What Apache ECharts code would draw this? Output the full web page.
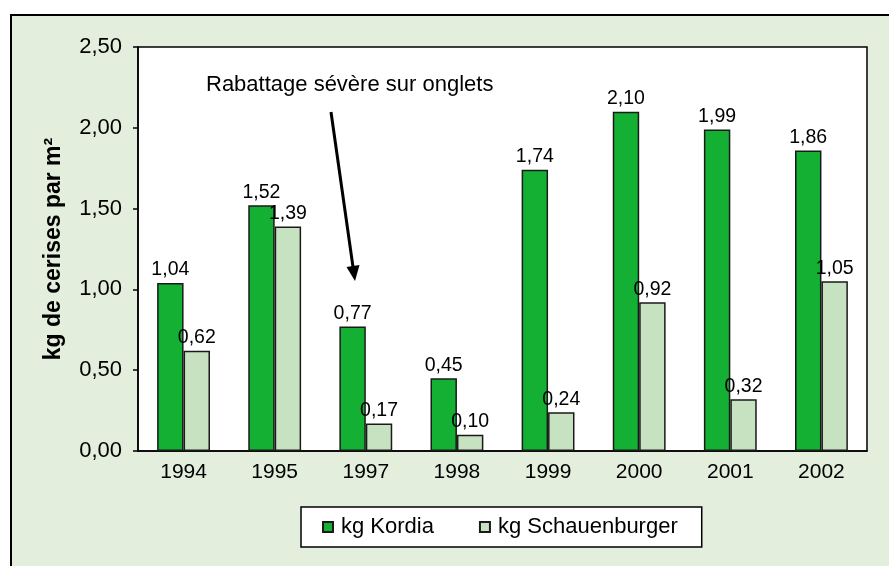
<!DOCTYPE html>
<html>
<head>
<meta charset="utf-8">
<script src="https://cdn.jsdelivr.net/npm/echarts@6/dist/echarts.min.js"></script>
<style>
  html, body { margin: 0; padding: 0; background: #fff; }
  #main { width: 889px; height: 566px; }
</style>
</head>
<body>
<div id="main"></div>
<script>
// donnees
var years = ['1994', '1995', '1997', '1998', '1999', '2000', '2001', '2002'];
var kordia = [1.04, 1.52, 0.77, 0.45, 1.74, 2.10, 1.99, 1.86];
var schauenburger = [0.62, 1.39, 0.17, 0.10, 0.24, 0.92, 0.32, 1.05];
var seriesNames = ['kg Kordia', 'kg Schauenburger'];
var yTicks = [0, 0.5, 1, 1.5, 2, 2.5];

var FONT = '"Liberation Sans", Arial, sans-serif';

function fr(v) {
  return v.toFixed(2).replace('.', ',');
}

var chart = echarts.init(document.getElementById('main'));

var option = {
  backgroundColor: '#ffffff',
  animation: false,
  textStyle: { fontFamily: FONT, color: '#000' },
  title: {
    text: 'Rabattage sévère sur onglets',
    left: 206,
    top: 74,
    padding: 0,
    textStyle: { fontSize: 22, fontWeight: 'normal', color: '#000', fontFamily: FONT }
  },
  graphic: [
    {
      type: 'rect',
      z: -10,
      silent: true,
      shape: { x: 11, y: 15, width: 900, height: 600 },
      style: { fill: '#e3eedc', stroke: '#000', lineWidth: 2 }
    },
    {
      // fleche
      type: 'line',
      z: 50,
      shape: { x1: 331, y1: 112, x2: 353, y2: 267 },
      style: { stroke: '#000', lineWidth: 3 }
    },
    {
      type: 'polygon',
      z: 50,
      shape: { points: [[355, 281], [359.5, 265], [346.5, 267]] },
      style: { fill: '#000' }
    }
  ],
  legend: {
    data: seriesNames,
    left: 301,
    top: 507,
    padding: [9, 24, 9, 21],
    itemGap: 45,
    itemWidth: 10,
    itemHeight: 10,
    backgroundColor: '#fff',
    borderColor: '#000',
    borderWidth: 1.5,
    icon: 'rect',
    textStyle: { fontSize: 22, fontFamily: FONT, color: '#000', padding: [0, 0, 0, 3] }
  },
  grid: {
    left: 138,
    top: 47,
    right: 22,
    bottom: 115,
    show: true,
    backgroundColor: '#fff',
    borderColor: '#000',
    borderWidth: 1.5
  },
  xAxis: {
    type: 'category',
    data: years,
    axisLine: { lineStyle: { color: '#000', width: 1.5 } },
    axisTick: { length: 5, lineStyle: { color: '#555', width: 1.5 } },
    axisLabel: { fontSize: 21, color: '#000', margin: 11, fontFamily: FONT }
  },
  yAxis: {
    type: 'value',
    min: yTicks[0],
    max: yTicks[yTicks.length - 1],
    interval: 0.5,
    name: 'kg de cerises par m²',
    nameLocation: 'middle',
    nameRotate: 90,
    nameGap: 73,
    nameTextStyle: { fontSize: 23, fontWeight: 'bold', color: '#000', fontFamily: FONT },
    axisLine: { show: true, lineStyle: { color: '#000', width: 1.5 } },
    axisTick: { show: true, length: 5, lineStyle: { color: '#000', width: 1.5 } },
    splitLine: { show: false },
    axisLabel: {
      fontSize: 22,
      color: '#000',
      margin: 16,
      fontFamily: FONT,
      formatter: function (v) { return fr(v); }
    }
  },
  series: [
    {
      name: seriesNames[0],
      type: 'bar',
      data: kordia,
      barGap: '0%',
      barCategoryGap: '42%',
      itemStyle: { color: '#14b034', borderColor: '#1a1a1a', borderWidth: 1.5 },
      label: {
        show: true,
        position: 'top',
        distance: 3,
        fontSize: 19.5,
        color: '#000',
        fontFamily: FONT,
        formatter: function (p) { return fr(p.value); }
      }
    },
    {
      name: seriesNames[1],
      type: 'bar',
      data: schauenburger,
      barGap: '0%',
      barCategoryGap: '42%',
      itemStyle: { color: '#c6e2c0', borderColor: '#1a1a1a', borderWidth: 1.5 },
      label: {
        show: true,
        position: 'top',
        distance: 3,
        fontSize: 19.5,
        color: '#000',
        fontFamily: FONT,
        formatter: function (p) { return fr(p.value); }
      }
    }
  ]
};

chart.setOption(option);
</script>
</body>
</html>
